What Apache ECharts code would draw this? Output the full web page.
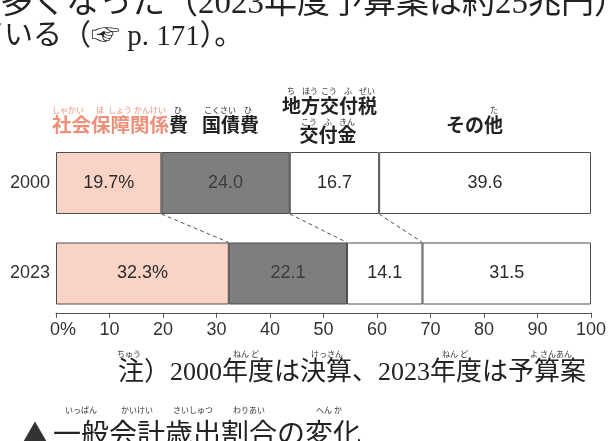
<!DOCTYPE html>
<html>
<head>
<meta charset="utf-8">
<script src="https://cdn.jsdelivr.net/npm/echarts@6/dist/echarts.min.js"></script>
<style>
  html, body { margin: 0; padding: 0; background: #fff; }
  #main { width: 610px; height: 441px; }
</style>
</head>
<body>
<div id="main"></div>
<script>
// 年度と費目
const years = ['2000', '2023'];
const itemNames = ['社会保障関係費', '国債費', '地方交付税交付金', 'その他'];
// 歳出割合（%）
const share2000 = [19.7, 24.0, 16.7, 39.6];
const share2023 = [32.3, 22.1, 14.1, 31.5];
// 目盛り
const tickMin = 0;
const tickMax = 100;
const tickStep = 10;

const fills = ['#f9d4c6', '#7e7e7e', '#ffffff', '#ffffff'];
const numFont = "'Liberation Sans', Arial, sans-serif";
const jpSans = "'Noto Sans CJK JP', sans-serif";
const jpText = "'Liberation Serif', 'Noto Sans CJK JP', serif";
const barW = 62;

// 破線用：各境界の累積値
const cum = arr => arr.map((v, i) => arr.slice(0, i + 1).reduce((a, b) => a + b, 0));
const c2000 = cum(share2000);
const c2023 = cum(share2023);
const joins = [0, 1, 2].map(i => [c2000[i], c2023[i], 0]);

const myChart = echarts.init(document.getElementById('main'));

const barSeries = itemNames.map((name, i) => ({
  name: name,
  type: 'bar',
  stack: 'total',
  barWidth: barW,
  data: [share2000[i], share2023[i]],
  itemStyle: { color: fills[i], borderColor: '#4d4d4d', borderWidth: 1 },
  label: {
    show: true,
    position: 'inside',
    color: i === 1 ? '#3c3c3c' : '#2b2b2b',
    fontFamily: numFont,
    fontSize: 18,
    formatter: p => p.value.toFixed(1) + (i === 0 ? '%' : '')
  },
  emphasis: { disabled: true }
}));

// ルビ付き見出し
const small = (text, x, y, color) => ({
  type: 'text', x: x, y: y,
  style: { text: text, fill: color || '#333', font: '8px ' + jpSans, align: 'center', verticalAlign: 'middle' }
});
const head = (text, x, y, color, align) => ({
  type: 'text', x: x, y: y,
  style: { text: text, fill: color || '#222', font: 'bold 19px ' + jpSans, align: align || 'left', verticalAlign: 'middle' }
});
const pink = '#ee9079';

myChart.setOption({
  backgroundColor: '#fff',
  animation: false,
  grid: { left: 56, right: 19, top: 137.75, height: 181 },
  xAxis: {
    type: 'value',
    min: tickMin,
    max: tickMax,
    interval: tickStep,
    offset: -6,
    splitLine: { show: false },
    axisLine: { show: true, lineStyle: { color: '#555', width: 1 } },
    axisTick: { show: true, length: 5, lineStyle: { color: '#555' } },
    axisLabel: {
      margin: 8,
      color: '#333',
      fontFamily: numFont,
      fontSize: 18,
      formatter: v => v === 0 ? '{z|0%}' : String(v),
      rich: { z: { fontFamily: numFont, fontSize: 18, color: '#333', padding: [0, 0, 0, 14] } }
    }
  },
  yAxis: {
    type: 'category',
    inverse: true,
    data: years,
    axisLine: { show: false },
    axisTick: { show: false },
    axisLabel: { margin: 6, color: '#333', fontFamily: numFont, fontSize: 18 }
  },
  series: barSeries.concat([{
    type: 'custom',
    data: joins,
    encode: { x: [0, 1], y: 2 },
    z: 5,
    renderItem: (params, api) => {
      const a = api.coord([api.value(0), 0]);
      const b = api.coord([api.value(1), 1]);
      return {
        type: 'line',
        shape: { x1: a[0], y1: a[1] + barW / 2, x2: b[0], y2: b[1] - barW / 2 },
        style: { stroke: '#555', lineWidth: 1, lineDash: [4, 3] }
      };
    }
  }]),
  graphic: [
    // 本文（上部）
    { type: 'text', x: 0, y: 4, style: { text: '多くなった（2023年度予算案は約25兆円）', fill: '#222', font: '33px ' + jpText, verticalAlign: 'middle' } },
    { type: 'text', x: -25, y: 37, style: { text: 'ている（☞ p. 171）。', fill: '#222', font: '29px ' + jpText, verticalAlign: 'middle' } },

    // 見出し
    { type: 'text', x: 52, y: 125, style: { text: '社会保障関係', fill: pink, font: 'bold 19.5px ' + jpSans, verticalAlign: 'middle' } },
    head('費', 169, 125),
    small('しゃかい', 68, 110, pink), small('ほ', 100, 110, pink), small('しょう', 120, 110, pink),
    small('かんけい', 150, 110, pink), small('ひ', 178, 110),
    head('国債費', 202, 125),
    small('こくさい', 220, 110), small('ひ', 248, 110),
    head('地方交付税', 282, 106),
    small('ち', 291, 91), small('ほう', 310, 91), small('こう', 329, 91), small('ふ', 348, 91), small('ぜい', 367, 91),
    head('交付金', 328, 135, null, 'center'),
    small('こう', 309, 122), small('ふ', 328, 122), small('きん', 347, 122),
    head('その他', 446, 125),
    small('た', 494, 110),

    // 注
    { type: 'text', x: 118, y: 373, style: { text: '注）2000年度は決算、2023年度は予算案', fill: '#222', font: '26px ' + jpText, verticalAlign: 'middle' } },
    small('ちゅう', 129, 354), small('ねん ど', 246, 354), small('けっさん', 327, 354),
    small('ねん ど', 455, 354), small('よ さんあん', 551, 354),

    // 図タイトル
    { type: 'text', x: 23, y: 432, style: { text: '▲', fill: '#333', font: '24px ' + jpSans, verticalAlign: 'middle' } },
    { type: 'text', x: 53, y: 433, style: { text: '一般会計歳出割合の変化', fill: '#222', font: '28px ' + jpSans, verticalAlign: 'middle' } },
    small('いっぱん', 81, 410), small('かいけい', 137, 410), small('さいしゅつ', 193, 410), small('わりあい', 249, 410),
    small('へん か', 329, 410)
  ]
});
</script>
</body>
</html>
